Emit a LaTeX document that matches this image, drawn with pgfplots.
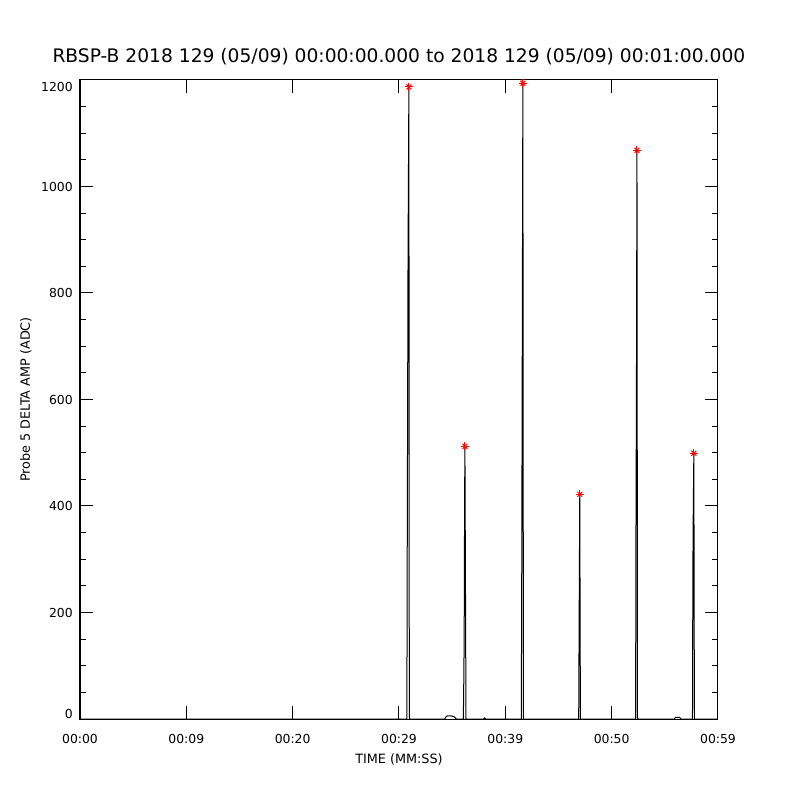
\documentclass[border=0pt]{standalone}
\usepackage{fontspec}
\setmainfont{DejaVu Sans}
\usepackage{pgfplots}
\pgfplotsset{compat=1.18}
\begin{document}
\begin{tikzpicture}
\useasboundingbox (0,0) rectangle (600pt,600pt);
\begin{axis}[
  at={(60pt,60.75pt)}, anchor=south west,
  scale only axis, width=478.5pt, height=479.25pt,
  xmin=0, xmax=60, ymin=0, ymax=1200,
  axis line style={line width=0.75pt},
  xtick={0,10,20,30,40,50,60},
  xticklabels={00:00,00:09,00:20,00:29,00:39,00:50,00:59},
  ytick={0,200,400,600,800,1000,1200},
  yticklabels={\raisebox{3.75pt}{0},200,400,600,800,1000,\raisebox{-5.25pt}{1200}},
  minor ytick={50,100,...,1150},
  tick align=inside,
  major tick length=9.75pt, minor tick length=4.5pt,
  every tick/.style={line width=0.75pt, black},
  tick label style={font=\fontsize{9.3pt}{10pt}\selectfont},
  xticklabel style={anchor=base, yshift=-18pt},
  yticklabel style={anchor=base east, inner sep=0pt, xshift=-5.25pt, yshift=-3.4pt},
  title={RBSP-B 2018 129 (05/09) 00:00:00.000 to 2018 129 (05/09) 00:01:00.000},
  title style={at={(axis description cs:0.5,1.0141)}, anchor=base, font=\fontsize{14pt}{16pt}\selectfont},
  xlabel={TIME (MM:SS)},
  xlabel style={at={(axis description cs:0.5,-0.0689)}, anchor=base, font=\fontsize{9.6pt}{11pt}\selectfont},
  ylabel={Probe 5 DELTA AMP (ADC)},
  ylabel style={at={(axis description cs:-0.0784,0.5)}, anchor=base, font=\fontsize{9.6pt}{11pt}\selectfont},
  clip=false,
]
\addplot[black, line width=0.75pt] coordinates {
(0,0) (30.74,0) (30.77,278) (30.85,868) (30.93,1187) (30.97,0)
(34.30,0) (34.45,5) (34.6,6) (34.9,6) (35.2,4) (35.4,0)
(36.05,0) (36.08,45) (36.13,150) (36.17,407) (36.20,512) (36.30,0)
(37.95,0) (38.05,2) (38.15,0)
(41.50,0) (41.54,237) (41.60,757) (41.65,1194) (41.70,0)
(46.90,0) (46.95,217) (47.00,422) (47.06,0)
(52.25,0) (52.29,375) (52.33,612) (52.38,1068) (52.43,0)
(55.90,0) (56.00,3) (56.40,3) (56.50,0)
(57.60,0) (57.64,288) (57.68,404) (57.73,499) (57.78,0) (60,0)
};
\addplot[only marks, red, mark=+, mark size=3pt, line width=0.75pt] coordinates {
(30.93,1187) (36.20,512) (41.65,1194) (47.00,422) (52.38,1068) (57.73,499)
};
\addplot[only marks, red, mark=x, mark size=2.6pt, line width=0.75pt] coordinates {
(30.93,1187) (36.20,512) (41.65,1194) (47.00,422) (52.38,1068) (57.73,499)
};
\end{axis}
\end{tikzpicture}
\end{document}
